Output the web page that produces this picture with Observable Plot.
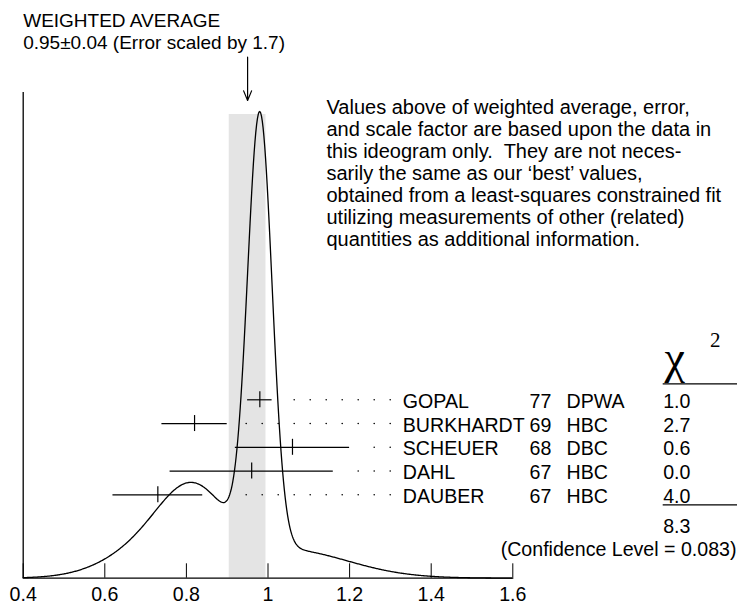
<!DOCTYPE html>
<html>
<head>
<meta charset="utf-8">
<script src="https://cdn.jsdelivr.net/npm/d3@7"></script>
<script src="https://cdn.jsdelivr.net/npm/@observablehq/plot@0.6"></script>
<style>
  html, body { margin: 0; padding: 0; background: #fff; }
</style>
</head>
<body>
<div id="chart"></div>
<script>
// ---- data ----
const authors    = ["GOPAL", "BURKHARDT", "SCHEUER", "DAHL", "DAUBER"];
const years      = ["77", "69", "68", "67", "67"];
const techniques = ["DPWA", "HBC", "DBC", "HBC", "HBC"];
const values     = [0.98, 0.82, 1.06, 0.96, 0.73];
const errors     = [0.03, 0.08, 0.14, 0.20, 0.11];
const chi2       = ["1.0", "2.7", "0.6", "0.0", "4.0"];
const chi2Total  = "8.3";
const confidenceLevel = "0.083";
const average      = 0.95;
const averageError = 0.045;   // half width of the shaded band as drawn
const titleLines = ["WEIGHTED AVERAGE", "0.95\u00B10.04 (Error scaled by 1.7)"];
const noteLines = [
  "Values above of weighted average, error,",
  "and scale factor are based upon the data in",
  "this ideogram only.  They are not neces-",
  "sarily the same as our \u2018best\u2019 values,",
  "obtained from a least-squares constrained fit",
  "utilizing measurements of other (related)",
  "quantities as additional information."
];
const tickValues = [0.4, 0.6, 0.8, 1, 1.2, 1.4, 1.6];
const tickLabels = ["0.4", "0.6", "0.8", "1", "1.2", "1.4", "1.6"];

// ---- layout ----
const W = 737, H = 605;
const mL = 22.7, mR = 224.7, mT = 92, mB = 27.3;
const pxPerX = (W - mL - mR) / 1.2;
const pyPerY = H - mT - mB;
const px2x = px => 0.4 + (px - mL) / pxPerX;       // pixel -> x units (layout helper)
const py2y = py => (H - mB - py) / pyPerY;          // pixel -> y units (layout helper)
const rowTopPx = 399.3, rowStepPx = 23.75;
const rowY = i => py2y(rowTopPx + i * rowStepPx);
const FONT = "'Liberation Sans', Arial, Helvetica, sans-serif";
const SERIF = "'Liberation Serif', 'Times New Roman', serif";

// ---- ideogram (PDG definition): each measurement is a Gaussian of width error
//      and area proportional to 1/error, summed ----
const gridX = d3.range(0.4, 1.6 + 1e-9, 0.002);
const raw = gridX.map(x => ({
  x,
  v: d3.sum(values, (m, i) => Math.exp(-0.5 * ((x - m) / errors[i]) ** 2) / errors[i] ** 2)
}));
const peak = d3.max(raw, d => d.v);
const peakFrac = py2y(111);
const ideogram = raw.map(d => ({x: d.x, y: d.v / peak * peakFrac}));

const rows = authors.map((a, i) => ({
  author: a, year: years[i], tech: techniques[i],
  value: values[i], error: errors[i], chi2: chi2[i], y: rowY(i)
}));

// leader dots on a fixed grid, starting a little past each error bar
const dotStart = px2x(245.7), dotStep = 16 / pxPerX, dotEnd = px2x(395), dotGap = 10 / pxPerX;
const dots = [];
rows.forEach(r => {
  for (let x = dotStart; x < dotEnd; x += dotStep) {
    if (x >= r.value + r.error + dotGap) dots.push({x, y: r.y});
  }
});

const tickHalf = 8 / pyPerY;
const colName = px2x(402.3), colYear = px2x(529), colTech = px2x(566), colChi = px2x(662.7);
const textBase = {fontSize: 19.6, fontFamily: FONT, fill: "#000", lineAnchor: "bottom", textAnchor: "start", dy: 8};

const chart = Plot.plot({
  width: W, height: H,
  marginLeft: mL, marginRight: mR, marginTop: mT, marginBottom: mB,
  style: {fontFamily: FONT, fontSize: "20px", background: "#fff", color: "#000", overflow: "visible"},
  x: {domain: [0.4, 1.6], axis: null},
  y: {domain: [0, 1], axis: null},
  marks: [
    // weighted-average band
    Plot.rect([average], {x1: d => d - averageError, x2: d => d + averageError, y1: 0, y2: py2y(114), fill: "#e4e4e4"}),
    // ideogram curve
    Plot.line(ideogram, {x: "x", y: "y", stroke: "#000", strokeWidth: 1.3}),
    // frame lines and ticks
    Plot.ruleY([0], {stroke: "#000", strokeWidth: 1.3}),
    Plot.ruleX([0.4], {stroke: "#000", strokeWidth: 1.3}),
    Plot.ruleX(tickValues, {y1: 0, y2: py2y(563.3), stroke: "#000", strokeWidth: 1}),
    Plot.text(tickValues, {x: d => d, y: 0, text: (d, i) => tickLabels[i], fontSize: 19.6, fontFamily: FONT,
      fill: "#000", lineAnchor: "bottom", textAnchor: "middle", dy: 22.6}),
    // measurements
    Plot.ruleY(rows, {x1: d => d.value - d.error, x2: d => d.value + d.error, y: "y", stroke: "#000", strokeWidth: 1.2}),
    Plot.ruleX(rows, {x: "value", y1: d => d.y - tickHalf, y2: d => d.y + tickHalf, stroke: "#000", strokeWidth: 1.2}),
    Plot.dot(dots, {x: "x", y: "y", r: 0.8, fill: "#000", stroke: null}),
    Plot.text(rows, {...textBase, x: () => colName, y: "y", text: "author"}),
    Plot.text(rows, {...textBase, x: () => colYear, y: "y", text: "year"}),
    Plot.text(rows, {...textBase, x: () => colTech, y: "y", text: "tech"}),
    Plot.text(rows, {...textBase, x: () => colChi, y: "y", text: "chi2"}),
    // chi-square header, rules, total, confidence level
    Plot.text(["\u03C7"], {x: () => px2x(664), y: () => py2y(372), fontSize: 46, fontFamily: SERIF, fill: "#000",
      lineAnchor: "bottom", textAnchor: "start"}),
    Plot.text(["2"], {x: () => px2x(709.5), y: () => py2y(346.5), fontSize: 21, fontFamily: SERIF, fill: "#000",
      lineAnchor: "bottom", textAnchor: "start"}),
    Plot.ruleY([py2y(383.3), py2y(504.3)], {x1: colChi, x2: px2x(737), stroke: "#000", strokeWidth: 1.2}),
    Plot.text([chi2Total], {x: () => colChi, y: () => py2y(532), fontSize: 19.6, fontFamily: FONT, fill: "#000",
      lineAnchor: "bottom", textAnchor: "start"}),
    Plot.text([`(Confidence Level = ${confidenceLevel})`], {x: () => px2x(736), y: () => py2y(555.5), fontSize: 19.6,
      fontFamily: FONT, fill: "#000", lineAnchor: "bottom", textAnchor: "end"}),
    // arrow pointing at weighted average
    Plot.arrow([average], {x1: d => d, x2: d => d, y1: py2y(56.7), y2: py2y(100), stroke: "#000",
      strokeWidth: 1.2, headLength: 13, headAngle: 45}),
    // title (two lines) and note
    Plot.text([titleLines[0]], {frameAnchor: "top-left", dy: 26.8 - mT, fontSize: 19, fontFamily: FONT,
      fill: "#000", lineAnchor: "bottom", textAnchor: "start"}),
    Plot.text([titleLines[1]], {frameAnchor: "top-left", dy: 48 - mT, fontSize: 19, fontFamily: FONT,
      fill: "#000", lineAnchor: "bottom", textAnchor: "start"}),
    Plot.text([noteLines.join("\n")], {frameAnchor: "top-left", dx: 326 - mL, dy: 5.6, fontSize: 20, fontFamily: FONT,
      fill: "#000", lineAnchor: "top", textAnchor: "start", lineHeight: 1.105})
  ]
});
document.getElementById("chart").append(chart);
</script>
</body>
</html>
